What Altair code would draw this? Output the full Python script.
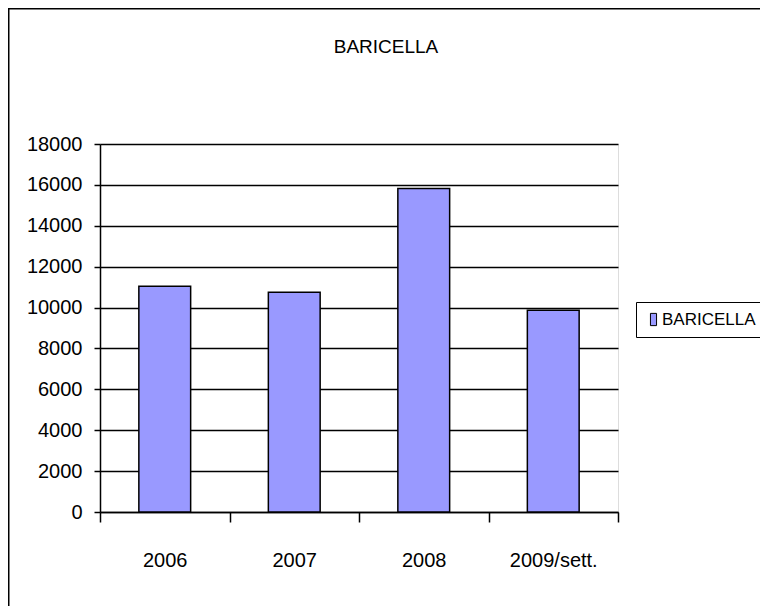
import altair as alt
import pandas as pd

categories = ["2006", "2007", "2008", "2009/sett."]
values = [11040, 10750, 15820, 9870]
series_name = "BARICELLA"
chart_title = "BARICELLA"
y_ticks = [0, 2000, 4000, 6000, 8000, 10000, 12000, 14000, 16000, 18000]

FONT = "Liberation Sans Narrow, Arial Narrow, Liberation Sans, Arial, sans-serif"

df = pd.DataFrame({"anno": categories, "valore": values, "serie": [series_name] * len(categories)})

frame = alt.Chart(alt.Data(values=[{"k": 1}])).mark_rect(
    fillOpacity=0, stroke="black", strokeWidth=1.5
).encode(
    x=alt.value(-91.25), x2=alt.value(700),
    y=alt.value(-135.25), y2=alt.value(520),
)

title_mark = alt.Chart(alt.Data(values=[{"t": chart_title}])).mark_text(
    font=FONT, fontSize=19, color="black", align="center", baseline="middle"
).encode(
    text="t:N", x=alt.value(286), y=alt.value(-97),
)

bars = alt.Chart(df).mark_bar(stroke="black", strokeWidth=1.5, width={"band": 0.4}).encode(
    x=alt.X("anno:N", sort=categories, title=None,
            scale=alt.Scale(paddingInner=0, paddingOuter=0),
            axis=alt.Axis(labelAngle=0, tickBand="extent", tickSize=10, tickColor="black",
                          tickWidth=1.5, domainColor="black", domainWidth=1.5,
                          labelFont=FONT, labelFontSize=20, labelColor="black",
                          labelPadding=28, labelBaseline="top", grid=False)),
    y=alt.Y("valore:Q", title=None,
            scale=alt.Scale(domain=[0, 18000], nice=False),
            axis=alt.Axis(values=y_ticks, format="d", tickSize=6, tickColor="black",
                          tickWidth=1.5, domainColor="black", domainWidth=1.5,
                          grid=True, gridColor="black", gridWidth=1.4,
                          labelFont=FONT, labelFontSize=20, labelColor="black",
                          labelPadding=12)),
    color=alt.Color("serie:N", scale=alt.Scale(range=["#9999FF"]),
                    legend=alt.Legend(title=None, orient="none", legendX=536, legendY=158,
                                      strokeColor="black", padding=9,
                                      symbolType="M-0.5,-1H0.5V1H-0.5Z", symbolSize=150,
                                      symbolStrokeColor="black", symbolStrokeWidth=1,
                                      labelFont=FONT, labelFontSize=17, labelColor="black",
                                      labelOffset=0)),
)

chart = alt.layer(frame, title_mark, bars).properties(
    width=518, height=368,
    autosize=alt.AutoSizeParams(type="none"),
    padding={"left": 92, "top": 136, "right": 142, "bottom": 94},
).configure_view(
    fill="#C0C0C0", stroke="#808080", strokeWidth=1.5
).configure(background="white")

chart.save("out.html", embed_options={"renderer": "svg", "actions": False})
